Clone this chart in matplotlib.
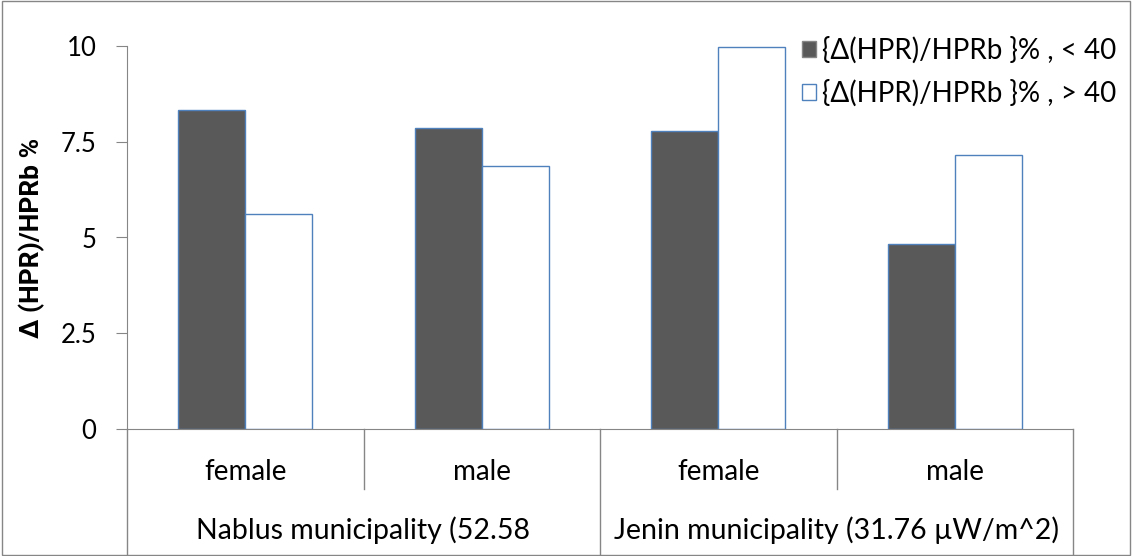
import numpy as np
import matplotlib.pyplot as plt
from matplotlib.patches import Patch, Rectangle

plt.rcParams['font.family'] = ['Lato', 'DejaVu Sans']

categories = ["female", "male", "female", "male"]
groups = ["Nablus municipality (52.58", "Jenin municipality (31.76 µW/m^2)"]
below_40 = [8.33, 7.86, 7.78, 4.83]
above_40 = [5.61, 6.87, 9.97, 7.15]
labels = ["{Δ(HPR)/HPRb }% , < 40", "{Δ(HPR)/HPRb }% , > 40"]

dark = "#595959"
edge = "#4F81BD"
grid = "#868686"

fig = plt.figure(figsize=(11.32, 5.56), dpi=100)
ax = fig.add_axes([127 / 1132, 127 / 556, (1073 - 127) / 1132, 383 / 556])

x = np.arange(len(categories))
w = 0.284
ax.bar(x - w / 2, below_40, w, color=dark, edgecolor=edge, linewidth=1)
ax.bar(x + w / 2, above_40, w, color="white", edgecolor=edge, linewidth=1)

ax.set_xlim(-0.5, 3.5)
ax.set_ylim(0, 10)
ax.set_yticks([0, 2.5, 5, 7.5, 10])
ax.set_yticklabels(["0", "2.5", "5", "7.5", "10"])
ax.set_xticks([])
for s in ["top", "right"]:
    ax.spines[s].set_visible(False)
ax.spines["left"].set_color(grid)
ax.spines["bottom"].set_color(grid)
ax.tick_params(axis="y", direction="out", length=8, color=grid, labelsize=18.5, pad=14)
ax.set_ylabel("Δ (HPR)/HPRb %", fontsize=19, fontweight="bold",
              family=["Roboto", "DejaVu Sans"])
ax.yaxis.set_label_coords(-0.087, 0.5)

# category axis: two tiers
tr = ax.get_xaxis_transform()
for i, c in enumerate(categories):
    ax.text(i, -0.112, c, transform=tr, ha="center", va="center", fontsize=20)
for b in [0.5, 2.5]:
    ax.plot([b, b], [0, -0.157], transform=tr, color=grid, lw=1, clip_on=False)
for b in [-0.5, 1.5, 3.5]:
    ax.plot([b, b], [0, -0.34], transform=tr, color=grid, lw=1, clip_on=False)
for j, g in enumerate(groups):
    ax.text(2 * j + 0.5, -0.264, g, transform=tr, ha="center", va="center", fontsize=20.5)

handles = [Patch(facecolor=dark, edgecolor=grid), Patch(facecolor="white", edgecolor=edge)]
fig.legend(handles, labels, loc="upper left", bbox_to_anchor=(0.691, 0.9685),
           frameon=False, fontsize=20, handlelength=0.5, handleheight=0.5,
           handletextpad=0.25, labelspacing=0.55, borderpad=0.2)

fig.patches.append(Rectangle((0.002, 0.002), 0.996, 0.996, transform=fig.transFigure,
                             fill=False, edgecolor=grid, lw=1))

fig.savefig("out.png", dpi=100)
